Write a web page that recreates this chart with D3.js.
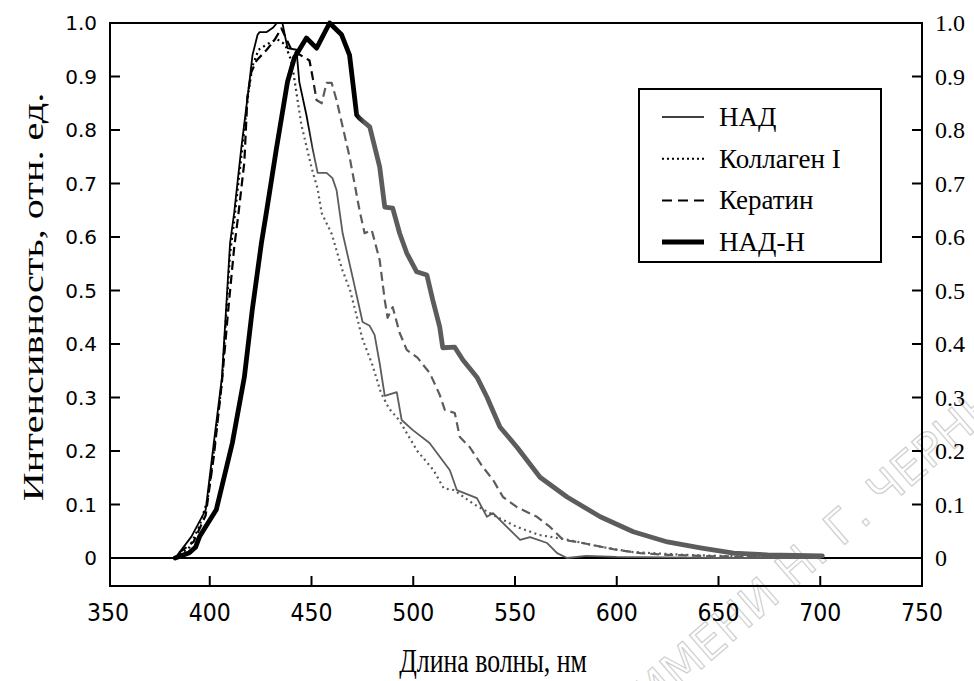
<!DOCTYPE html>
<html>
<head>
<meta charset="utf-8">
<script src="https://cdn.jsdelivr.net/npm/d3@7"></script>
<style>
  html, body { margin: 0; padding: 0; background: #fff; }
  svg { display: block; }
</style>
</head>
<body>
<svg id="chart" width="974" height="681"></svg>
<script>
// Fluorescence spectra: wavelength (nm) vs normalised intensity
const nadWl = [383, 391, 398, 402, 406, 408, 410, 412, 415.5, 419.5, 421, 423.5, 424.5, 428, 431, 433, 435.7, 438.2, 442.6, 444, 447.5, 450.5, 453, 457.4, 460.3, 462.3, 465.3, 470.2, 475.1, 478.6, 481, 483.5, 486, 491.9, 494.3, 499.8, 508, 518, 521.4, 531.3, 536.2, 539.2, 546, 552.5, 557.4, 565.8, 570.7, 575.6, 585, 600, 650, 700];
const nadVal = [0.0, 0.04, 0.09, 0.215, 0.338, 0.464, 0.589, 0.645, 0.766, 0.89, 0.94, 0.978, 0.983, 0.983, 0.991, 1.0, 1.0, 0.953, 0.95, 0.89, 0.828, 0.766, 0.72, 0.72, 0.71, 0.688, 0.607, 0.525, 0.441, 0.434, 0.417, 0.364, 0.303, 0.31, 0.258, 0.239, 0.215, 0.164, 0.127, 0.112, 0.077, 0.084, 0.058, 0.034, 0.039, 0.028, 0.009, 0.0, 0.004, 0.002, 0.0, 0.0];

const collagenWl = [383, 390, 395, 399, 402, 406, 408, 410, 412, 415.5, 419, 421, 424, 428, 433, 437, 440, 441, 443, 445, 447.5, 450, 453, 455, 460, 465, 469, 475, 480, 484, 488, 493, 502, 510, 515, 520, 530, 541, 551, 562, 576, 592, 608, 633, 660, 700];
const collagenVal = [0.0, 0.02, 0.06, 0.11, 0.2, 0.33, 0.45, 0.57, 0.63, 0.75, 0.87, 0.92, 0.95, 0.96, 0.97, 0.96, 0.93, 0.91, 0.86, 0.81, 0.77, 0.73, 0.69, 0.645, 0.605, 0.54, 0.5, 0.41, 0.36, 0.31, 0.28, 0.258, 0.2, 0.164, 0.13, 0.127, 0.1, 0.077, 0.058, 0.043, 0.034, 0.021, 0.011, 0.006, 0.003, 0.002];

const keratinWl = [385, 392, 398, 402, 406, 409, 412, 414, 417, 418.5, 420.4, 423, 428, 431.8, 435.2, 440.1, 449, 450.5, 452.5, 455, 457.4, 459.9, 462.3, 468.7, 473.6, 476.1, 479.6, 483.5, 486, 487.4, 489.9, 493.3, 496.8, 502.2, 505.7, 508.1, 513, 515.5, 520.4, 522.9, 527.8, 534.2, 539.2, 544.1, 551, 560.8, 567.2, 573.6, 580.5, 588.4, 600.2, 611.6, 624.9, 650, 700];
const keratinVal = [0.01, 0.03, 0.08, 0.19, 0.33, 0.46, 0.58, 0.64, 0.74, 0.862, 0.908, 0.93, 0.95, 0.968, 0.99, 0.95, 0.93, 0.9, 0.856, 0.85, 0.888, 0.888, 0.856, 0.75, 0.65, 0.607, 0.613, 0.557, 0.482, 0.449, 0.469, 0.421, 0.389, 0.374, 0.357, 0.346, 0.305, 0.277, 0.271, 0.226, 0.207, 0.17, 0.146, 0.114, 0.095, 0.077, 0.058, 0.034, 0.03, 0.024, 0.015, 0.009, 0.006, 0.003, 0.002];

const nadhWl = [383, 390, 393, 395, 403.2, 411.1, 417, 420.9, 425.4, 428, 432.8, 438.2, 441.6, 447.5, 452.5, 458.9, 464.8, 468.7, 472.2, 473.6, 478.6, 483.5, 486, 489.9, 493.3, 496.8, 501.7, 506.7, 509.6, 513, 514.5, 520.4, 524.4, 531.3, 536.2, 542.6, 551, 562.3, 575.6, 591.9, 608.1, 624.9, 641.1, 657.4, 674.1, 701];
const nadhVal = [0.0, 0.01, 0.02, 0.04, 0.09, 0.215, 0.338, 0.464, 0.589, 0.65, 0.766, 0.89, 0.935, 0.972, 0.953, 1.0, 0.978, 0.94, 0.828, 0.822, 0.806, 0.731, 0.656, 0.654, 0.607, 0.57, 0.535, 0.529, 0.482, 0.432, 0.393, 0.394, 0.37, 0.338, 0.301, 0.245, 0.207, 0.151, 0.114, 0.077, 0.049, 0.03, 0.019, 0.009, 0.006, 0.004];

const seriesNames = ["НАД", "Коллаген I", "Кератин", "НАД-Н"];
const xTicks = [350, 400, 450, 500, 550, 600, 650, 700, 750];
const yTicks = [0, 0.1, 0.2, 0.3, 0.4, 0.5, 0.6, 0.7, 0.8, 0.9, 1.0];
const xTitle = "Длина волны, нм";
const yTitle = "Интенсивность, отн. ед.";
const watermark = "ИМЕНИ Н. Г. ЧЕРНЫШЕВСКОГО";

const svg = d3.select("#chart");
const frame = { left: 110, right: 922, top: 23, bottom: 586 };
const x = d3.scaleLinear().domain([350, 750]).range([108, 922]);
const y = d3.scaleLinear().domain([0, 1]).range([558, 23]);

const sans = "'DejaVu Sans', Verdana, sans-serif";
const serif = "'Liberation Serif', 'Times New Roman', serif";

// Curves turn grey past the given wavelength
const series = [
  { name: seriesNames[3], wl: nadhWl, val: nadhVal, width: 4.8, dash: null, fade: 474 },
  { name: seriesNames[2], wl: keratinWl, val: keratinVal, width: 2.2, dash: "9,5", fade: 452 },
  { name: seriesNames[1], wl: collagenWl, val: collagenVal, width: 2.2, dash: "2,3.5", fade: 442 },
  { name: seriesNames[0], wl: nadWl, val: nadVal, width: 1.8, dash: null, fade: 450 }
];

const defs = svg.append("defs");
series.forEach((s, i) => {
  const g = defs.append("linearGradient")
    .attr("id", "fade" + i)
    .attr("gradientUnits", "userSpaceOnUse")
    .attr("x1", x(s.fade - 2)).attr("x2", x(s.fade + 2))
    .attr("y1", 0).attr("y2", 0);
  g.append("stop").attr("offset", 0).attr("stop-color", "#000");
  g.append("stop").attr("offset", 1).attr("stop-color", "#5c5c5c");
});

// Faint diagonal watermark, behind everything else
svg.append("text")
  .attr("transform", "translate(652,712) rotate(-41)")
  .attr("font-family", sans).attr("font-size", 46)
  .attr("fill", "none").attr("stroke", "#cdcdcd").attr("stroke-width", 1.1)
  .text(watermark);

// Zero line and frame
svg.append("line")
  .attr("x1", frame.left).attr("x2", frame.right)
  .attr("y1", y(0)).attr("y2", y(0))
  .attr("stroke", "#000").attr("stroke-width", 2);

const line = d3.line().x(d => x(d[0])).y(d => y(d[1]));
series.forEach((s, i) => {
  const pts = s.wl.map((w, k) => [w, s.val[k]]);
  svg.append("path")
    .datum(pts)
    .attr("d", line)
    .attr("fill", "none")
    .attr("stroke", `url(#fade${i})`)
    .attr("stroke-width", s.width)
    .attr("stroke-linejoin", "round")
    .attr("stroke-linecap", s.dash ? "butt" : "round")
    .attr("stroke-dasharray", s.dash);
});

svg.append("rect")
  .attr("x", frame.left).attr("y", frame.top)
  .attr("width", frame.right - frame.left).attr("height", frame.bottom - frame.top)
  .attr("fill", "none").attr("stroke", "#000").attr("stroke-width", 2);

// Left axis: inward ticks, sans labels
const innerY = yTicks.filter(v => v > 0 && v < 1);
svg.selectAll(".ltick").data(innerY).enter().append("line")
  .attr("x1", frame.left).attr("x2", frame.left + 10)
  .attr("y1", d => y(d)).attr("y2", d => y(d))
  .attr("stroke", "#000").attr("stroke-width", 2);
svg.selectAll(".llab").data(yTicks).enter().append("text")
  .attr("x", 97).attr("y", d => y(d))
  .attr("dy", "0.36em")
  .attr("text-anchor", "end")
  .attr("font-family", sans).attr("font-size", 20)
  .text(d => d === 0 ? "0" : d.toFixed(1));

// Right axis: inward ticks, serif labels
svg.selectAll(".rtick").data(innerY).enter().append("line")
  .attr("x1", frame.right - 10).attr("x2", frame.right)
  .attr("y1", d => y(d)).attr("y2", d => y(d))
  .attr("stroke", "#000").attr("stroke-width", 2);
svg.selectAll(".rlab").data(yTicks).enter().append("text")
  .attr("x", 935).attr("y", d => y(d))
  .attr("dy", "0.34em")
  .attr("font-family", serif).attr("font-size", 24)
  .text(d => d === 0 ? "0" : d.toFixed(1));

// Bottom axis
svg.selectAll(".btick").data(xTicks.filter(v => v > 350 && v < 750)).enter().append("line")
  .attr("x1", d => x(d)).attr("x2", d => x(d))
  .attr("y1", frame.bottom).attr("y2", frame.bottom - 10)
  .attr("stroke", "#000").attr("stroke-width", 2);
svg.selectAll(".blab").data(xTicks).enter().append("text")
  .attr("transform", d => `translate(${x(d)},621) scale(0.92,1)`)
  .attr("text-anchor", "middle")
  .attr("font-family", sans).attr("font-size", 24)
  .text(d => d);

// Axis titles
svg.append("text")
  .attr("transform", "translate(493,672) scale(0.86,1.1)")
  .attr("text-anchor", "middle")
  .attr("font-family", serif).attr("font-size", 30)
  .text(xTitle);
svg.append("text")
  .attr("transform", "translate(43,297) rotate(-90) scale(1.34,1)")
  .attr("text-anchor", "middle")
  .attr("font-family", serif).attr("font-size", 30)
  .text(yTitle);

// Legend
const legend = svg.append("g");
legend.append("rect")
  .attr("x", 639).attr("y", 89).attr("width", 242).attr("height", 173)
  .attr("fill", "#fff").attr("stroke", "#000").attr("stroke-width", 2);
const legendStyle = [
  { width: 1.6, dash: null },
  { width: 2, dash: "2,3" },
  { width: 2, dash: "10,6" },
  { width: 5, dash: null }
];
seriesNames.forEach((name, i) => {
  const ly = 117 + i * 41.7;
  legend.append("line")
    .attr("x1", 662).attr("x2", 704).attr("y1", ly).attr("y2", ly)
    .attr("stroke", "#000")
    .attr("stroke-width", legendStyle[i].width)
    .attr("stroke-dasharray", legendStyle[i].dash);
  legend.append("text")
    .attr("x", 719).attr("y", ly).attr("dy", "0.33em")
    .attr("font-family", serif).attr("font-size", 27)
    .text(name);
});
</script>
</body>
</html>
